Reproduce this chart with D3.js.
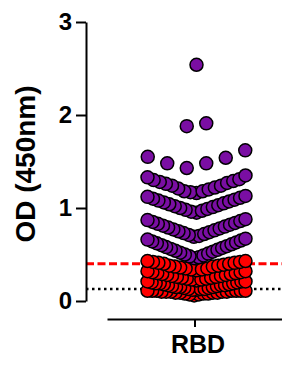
<!DOCTYPE html>
<html>
<head>
  <style>
    body {
      margin: 0;
      background: white;
    }
    text {
      font-family: "Liberation Sans", Arial, sans-serif;
      font-weight: bold;
      fill: black;
    }
    circle {
      stroke: black;
      stroke-width: 1.5;
    }
  </style>
</head>
<body>
  <script src="https://cdn.jsdelivr.net/npm/d3@7"></script>
  <script>
    var width = 282, height = 365;

    // category and reference lines
    var categories = ["RBD"];
    var cutoffValue = 0.4;
    var baselineValue = 0.13;
    var yTicks = [0, 1, 2, 3];

    // OD readings, below cut-off (red) and above (purple)
    var negative = [
      0.06, 0.07, 0.07, 0.08, 0.08, 0.08, 0.09, 0.09, 0.09, 0.09, 0.10,
      0.10, 0.10, 0.10, 0.10, 0.11, 0.11, 0.11, 0.11, 0.11, 0.11, 0.11,
      0.12, 0.12, 0.13, 0.13, 0.13, 0.14, 0.14, 0.15, 0.15, 0.15, 0.16,
      0.16, 0.17, 0.17, 0.17, 0.18, 0.18, 0.19, 0.19, 0.19, 0.20, 0.20,
      0.21, 0.21, 0.21,
      0.22, 0.23, 0.23, 0.24, 0.24, 0.25, 0.25, 0.26, 0.26, 0.27, 0.27,
      0.28, 0.28, 0.29, 0.29, 0.30, 0.30, 0.31, 0.31, 0.32, 0.32,
      0.33, 0.34, 0.34, 0.35, 0.35, 0.36, 0.37, 0.37, 0.38, 0.38, 0.39,
      0.40, 0.40, 0.41, 0.41, 0.42, 0.42, 0.43, 0.43
    ];
    var positive = [
      0.46, 0.47, 0.48, 0.49, 0.50, 0.51, 0.52, 0.53, 0.54, 0.55, 0.56,
      0.57, 0.58, 0.59, 0.60, 0.61, 0.62, 0.63, 0.64, 0.65, 0.66, 0.67,
      0.69, 0.70, 0.71, 0.72, 0.73, 0.74, 0.75, 0.76, 0.77, 0.78, 0.79,
      0.80, 0.81, 0.82, 0.83, 0.84, 0.85, 0.86, 0.87, 0.88,
      0.95, 0.96, 0.97, 0.98, 0.99, 1.00, 1.01, 1.02, 1.03, 1.04, 1.05,
      1.06, 1.07, 1.08, 1.09, 1.10, 1.11, 1.12, 1.13,
      1.16, 1.17, 1.18, 1.18, 1.20, 1.21, 1.22, 1.24, 1.24, 1.26, 1.27,
      1.28, 1.29, 1.30, 1.31, 1.33, 1.35,
      1.43, 1.48, 1.48, 1.54, 1.55, 1.62,
      1.88, 1.91,
      2.54
    ];

    // value bins used to spread points sideways, prism style
    var binEdges = [0.12, 0.22, 0.33, 0.45, 0.685, 0.92, 1.15, 1.40, 1.70, 2.00];

    var svg = d3.select("body").append("svg")
        .attr("width", width)
        .attr("height", height);

    var y = d3.scaleLinear().domain([0, 3]).range([301, 22]);
    var x = d3.scalePoint().domain(categories).range([107, 282]).padding(0.5);

    // reference lines
    svg.append("line")
        .attr("x1", 86).attr("x2", width)
        .attr("y1", y(cutoffValue)).attr("y2", y(cutoffValue))
        .attr("stroke", "#ff0000")
        .attr("stroke-width", 3)
        .attr("stroke-dasharray", "8,3.5");

    svg.append("line")
        .attr("x1", 86).attr("x2", width)
        .attr("y1", y(baselineValue)).attr("y2", y(baselineValue))
        .attr("stroke", "black")
        .attr("stroke-width", 2.5)
        .attr("stroke-dasharray", "2.5,3.5");

    // build points and spread each bin
    var points = negative.map(v => ({v: v, fill: "#ff0000"}))
      .concat(positive.map(v => ({v: v, fill: "#7a0ea3"})));

    var maxHalf = 49, step0 = 19.5;
    d3.groups(points, d => d3.bisectRight(binEdges, d.v)).forEach(g => {
      var pts = g[1].sort((a, b) => a.v - b.v);
      var n = pts.length;
      var step = n > 1 ? Math.min(step0, 2 * maxHalf / (n - 1)) : 0;
      var slots = d3.range(n).map(i => i - (n - 1) / 2);
      slots.sort((a, b) => Math.abs(a) - Math.abs(b) || a - b);
      pts.forEach((p, i) => { p.dx = slots[i] * step; });
    });
    points.sort((a, b) => a.v - b.v);

    svg.append("g").selectAll("circle")
        .data(points)
      .enter().append("circle")
        .attr("cx", d => x("RBD") + 2 + d.dx)
        .attr("cy", d => y(d.v))
        .attr("r", 6.5)
        .attr("fill", d => d.fill);

    // axes
    var yAxis = svg.append("g")
        .attr("transform", "translate(86,0)")
        .call(d3.axisLeft(y).tickValues(yTicks).tickFormat(d3.format("d"))
          .tickSize(10).tickSizeOuter(0).tickPadding(4));
    yAxis.selectAll("text").style("font-size", "24px");

    var xAxis = svg.append("g")
        .attr("transform", "translate(0,319)")
        .call(d3.axisBottom(x).tickSize(8).tickSizeOuter(0).tickPadding(8));
    xAxis.selectAll("text").style("font-size", "25px").attr("dx", 3);

    svg.selectAll(".domain, .tick line")
        .attr("stroke", "black")
        .attr("stroke-width", 2);

    svg.append("text")
        .attr("transform", "translate(35,164) rotate(-90)")
        .attr("text-anchor", "middle")
        .style("font-size", "28px")
        .text("OD (450nm)");
  </script>
</body>
</html>
